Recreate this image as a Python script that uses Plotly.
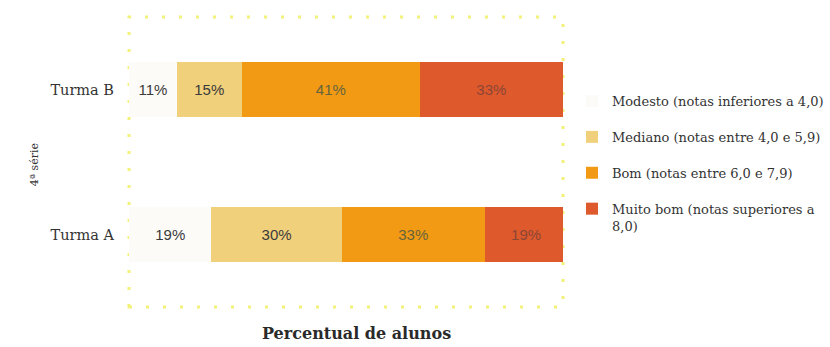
import plotly.graph_objects as go

# Turma rows (bottom to top) and share of students per grade band
turmas = ["Turma A", "Turma B"]
categorias = [
    "Modesto (notas inferiores a 4,0)",
    "Mediano (notas entre 4,0 e 5,9)",
    "Bom (notas entre 6,0 e 7,9)",
    "Muito bom (notas superiores a<br>8,0)",
]
modesto = [19, 11]
mediano = [30, 15]
bom = [33, 41]
muito_bom = [19, 33]

series = [modesto, mediano, bom, muito_bom]
cores = ["#fcfbf7", "#f1d07c", "#f39a14", "#de592b"]
cores_texto = ["#3a3a3a", "#3a3a3a", "#66643c", "#8c4636"]

SERIF = "DejaVu Serif, serif"

fig = go.Figure()
for i, (nome, valores) in enumerate(zip(categorias, series)):
    fig.add_trace(go.Bar(
        y=turmas,
        x=valores,
        name=nome,
        orientation="h",
        width=0.386,
        marker=dict(color=cores[i], line=dict(width=0)),
        text=[f"{v}%" for v in valores],
        textposition="inside",
        insidetextanchor="middle",
        textangle=0,
        textfont=dict(family="Liberation Sans, Arial, sans-serif", size=15, color=cores_texto[i]),
        legendgroup=f"g{i}",
        hoverinfo="skip",
    ))

# dotted frame around the plotting area
fig.add_shape(
    type="rect", xref="paper", yref="paper", x0=0, x1=1, y0=0, y1=1,
    line=dict(color="#f2f27a", width=3, dash="3px,14px"),
    layer="below",
)

fig.add_annotation(
    text="4ª série", textangle=-90, xref="paper", yref="paper",
    x=-0.216, xanchor="center", y=0.49, yanchor="middle", showarrow=False,
    font=dict(family=SERIF, size=11, color="#333333"),
)
fig.add_annotation(
    text="<b>Percentual de alunos</b>", xref="paper", yref="paper",
    x=0.525, xanchor="center", y=-0.09, yanchor="middle", showarrow=False,
    font=dict(family=SERIF, size=16, color="#2a2a2a"),
)

fig.update_layout(
    width=830, height=347,
    margin=dict(l=129, r=267, t=17, b=40, autoexpand=False),
    barmode="stack",
    paper_bgcolor="white",
    plot_bgcolor="white",
    xaxis=dict(range=[0, 100], visible=False, fixedrange=True),
    yaxis=dict(
        range=[-0.5, 1.5], showgrid=False, zeroline=False, showline=False,
        ticks="", ticklabelstandoff=14,
        tickfont=dict(family=SERIF, size=14.5, color="#333333"),
    ),
    legend=dict(
        x=1.0207, xanchor="left", y=0.762, yanchor="top",
        traceorder="grouped", tracegroupgap=16, valign="top",
        itemwidth=30,
        font=dict(family=SERIF, size=13, color="#333333"),
        bgcolor="rgba(0,0,0,0)",
    ),
    showlegend=True,
)

fig.write_html("out.html")
